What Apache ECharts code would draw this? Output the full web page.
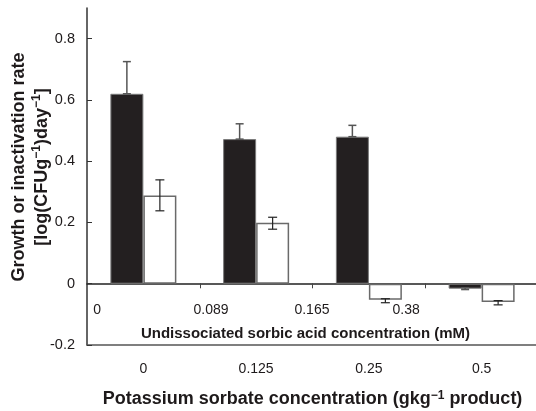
<!DOCTYPE html>
<html><head><meta charset="utf-8">
<script src="https://cdn.jsdelivr.net/npm/echarts@6/dist/echarts.min.js"></script>
<style>html,body{margin:0;padding:0;background:#fff}#c{width:536px;height:411px}</style>
</head><body><div id="c"></div>
<script>
// ---- data ----
const categories = ['0', '0.125', '0.25', '0.5'];          // potassium sorbate (g/kg)
const acidLabels = ['0', '0.089', '0.165', '0.38'];        // undissociated sorbic acid (mM)
const blackValues = [0.62, 0.472, 0.48, -0.016];
const blackErrLow = [0.62, 0.472, 0.48, -0.019];
const blackErrHigh = [0.725, 0.522, 0.517, -0.013];
const whiteValues = [0.288, 0.199, -0.052, -0.06];
const whiteErrLow = [0.238, 0.178, -0.062, -0.069];
const whiteErrHigh = [0.339, 0.217, -0.049, -0.055];
const yTicks = [-0.2, 0, 0.2, 0.4, 0.6, 0.8];

// ---- layout (not data) ----
const acidLabelPos = [-0.41, 0.6, 1.495, 2.33];   // label anchor along band axis, category units
const BAR_W = 33;
const ZERO_AXIS_OFFSET = -61.7;                    // zero line lifted from the grid bottom
const TXT = '#1e1a1b';

const blackData = blackValues.map((v, i) => [i, v]);
const whiteData = whiteValues.map((v, i) => [i, v]);
const blackErr = blackErrLow.map((lo, i) => [i, lo, blackErrHigh[i]]);
const whiteErr = whiteErrLow.map((lo, i) => [i, lo, whiteErrHigh[i]]);

function errRender(sign, color, capHalf, lw) {
  return function (params, api) {
    const x = api.value(0), lo = api.value(1), hi = api.value(2);
    const pLo = api.coord([x, lo]), pHi = api.coord([x, hi]);
    const cx = pLo[0] + sign * BAR_W / 2;
    const st = { stroke: color, lineWidth: lw };
    return {
      type: 'group',
      children: [
        { type: 'line', shape: { x1: cx, y1: pLo[1], x2: cx, y2: pHi[1] }, style: st },
        { type: 'line', shape: { x1: cx - capHalf, y1: pHi[1], x2: cx + capHalf, y2: pHi[1] }, style: st },
        { type: 'line', shape: { x1: cx - capHalf, y1: pLo[1], x2: cx + capHalf, y2: pLo[1] }, style: st }
      ]
    };
  };
}

const chart = echarts.init(document.getElementById('c'), null, { renderer: 'canvas' });
chart.setOption({
  animation: false,
  backgroundColor: '#fff',
  textStyle: { fontFamily: 'Liberation Sans, Arial, sans-serif', color: TXT },
  grid: { left: 87, right: -2, top: 8, bottom: 66, containLabel: false, outerBoundsMode: 'none' },
  xAxis: [
    {
      type: 'value', min: -0.5, max: 3.5, position: 'bottom', offset: ZERO_AXIS_OFFSET,
      axisLine: { show: true, onZero: false, lineStyle: { color: '#222', width: 1.5 } },
      axisTick: { show: true, inside: false, length: 5, customValues: [0.5, 1.5, 2.5], lineStyle: { color: '#444', width: 1 } },
      axisLabel: {
        show: true, customValues: acidLabelPos, margin: 20, fontSize: 14, color: TXT,
        formatter: v => { const i = acidLabelPos.findIndex(p => Math.abs(p - v) < 1e-6); return i >= 0 ? acidLabels[i] : ''; }
      },
      splitLine: { show: false },
      name: 'Undissociated sorbic acid concentration (mM)',
      nameLocation: 'middle', nameGap: 43, nameMoveOverlap: false,
      nameTextStyle: { fontSize: 15, fontWeight: 'bold', color: TXT, padding: [0, 14, 0, 0] }
    },
    {
      type: 'category', data: categories, position: 'bottom', boundaryGap: true,
      axisLine: { show: true, onZero: false, lineStyle: { color: '#555', width: 1.5 } },
      axisTick: { show: false },
      axisLabel: { fontSize: 14, margin: 17, color: TXT },
      splitLine: { show: false },
      name: '{t|Potassium sorbate concentration (gkg}{s|−1}{t| product)}',
      nameLocation: 'middle', nameGap: 45, nameMoveOverlap: false,
      nameTextStyle: {
        rich: {
          t: { fontSize: 18, fontWeight: 'bold', color: TXT, fontFamily: 'Liberation Sans' },
          s: { fontSize: 12, fontWeight: 'bold', color: TXT, verticalAlign: 'top', fontFamily: 'Liberation Sans' }
        }
      }
    }
  ],
  yAxis: {
    type: 'value', min: -0.2, max: 0.9,
    axisLine: { show: true, onZero: false, lineStyle: { color: '#333', width: 1.5 } },
    axisTick: { show: true, inside: true, length: 5, customValues: yTicks, lineStyle: { color: '#333', width: 1 } },
    axisLabel: { customValues: yTicks, fontSize: 14.5, margin: 12, color: TXT, formatter: v => String(v) },
    splitLine: { show: false },
    name: '{t|Growth or inactivation rate}\n{t|[log(CFUg}{s|−1}{t|)day}{s|−1}{t|]}',
    nameLocation: 'middle', nameRotate: 90, nameGap: 34, nameMoveOverlap: false,
    nameTextStyle: {
      padding: [0, 0, 0, 19],
      rich: {
        t: { fontSize: 18, fontWeight: 'bold', color: TXT, lineHeight: 22.5, fontFamily: 'Liberation Sans' },
        s: { fontSize: 12, fontWeight: 'bold', color: TXT, verticalAlign: 'top', fontFamily: 'Liberation Sans' }
      }
    }
  },
  series: [
    {
      type: 'bar', xAxisIndex: 0, yAxisIndex: 0, data: blackData, barWidth: BAR_W, barGap: '0%',
      itemStyle: { color: '#231f20', borderColor: '#7a7a7a', borderWidth: 1 }, z: 2
    },
    {
      type: 'bar', xAxisIndex: 0, yAxisIndex: 0, data: whiteData, barWidth: BAR_W, barGap: '0%',
      itemStyle: { color: '#ffffff', borderColor: '#6a6a6a', borderWidth: 1.5 }, z: 2
    },
    {
      type: 'custom', xAxisIndex: 0, yAxisIndex: 0, data: blackErr, z: 3,
      renderItem: errRender(-1, '#555', 4, 1.5), encode: { x: 0, y: [1, 2] }
    },
    {
      type: 'custom', xAxisIndex: 0, yAxisIndex: 0, data: whiteErr, z: 3,
      renderItem: errRender(1, '#222', 4.5, 1.2), encode: { x: 0, y: [1, 2] }
    }
  ]
});
</script></body></html>
